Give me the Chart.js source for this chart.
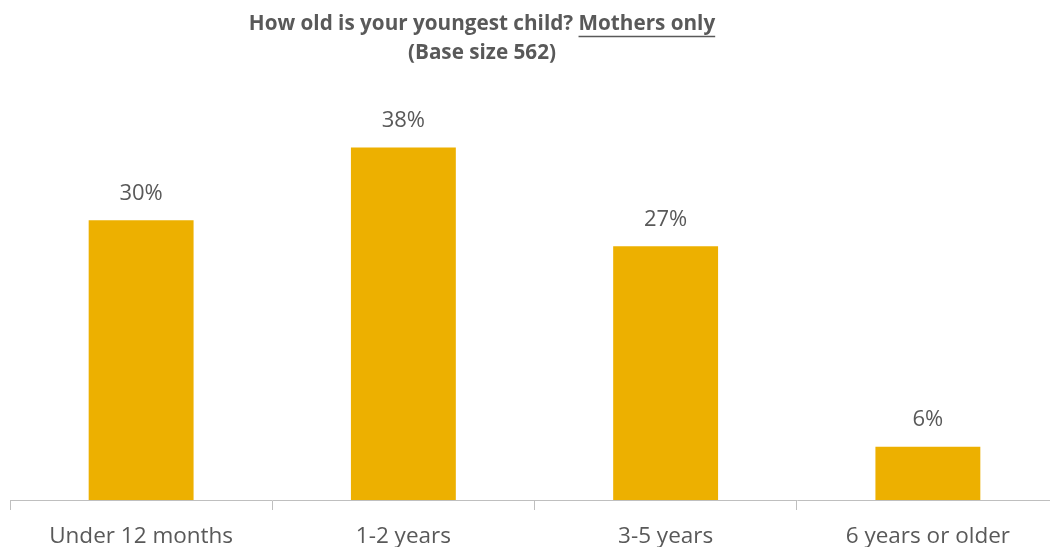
<!DOCTYPE html>
<html>
<head>
<meta charset="utf-8">
<script src="https://cdn.jsdelivr.net/npm/chart.js@4.4.0/dist/chart.umd.min.js"></script>
<style>
  html, body { margin: 0; padding: 0; background: #fff; overflow: hidden; }
  #wrap { position: relative; width: 1060px; height: 547px; }
</style>
</head>
<body>
<div id="wrap"><canvas id="c"></canvas></div>
<script>
const categories = ['Under 12 months', '1-2 years', '3-5 years', '6 years or older'];
const values = [30.0, 37.8, 27.2, 5.7];
const titleLine1 = 'How old is your youngest child? ';
const titleUnderlined = 'Mothers only';
const titleLine2 = '(Base size 562)';

const TEXT = '#595959';
const FONT = '"Open Sans", "Noto Sans", sans-serif';

const overlay = {
  id: 'overlay',
  afterDatasetsDraw(chart) {
    const ctx = chart.ctx;
    ctx.save();
    // data labels
    ctx.fillStyle = TEXT;
    ctx.font = '22px ' + FONT;
    ctx.textAlign = 'center';
    ctx.textBaseline = 'middle';
    const meta = chart.getDatasetMeta(0);
    meta.data.forEach((bar, i) => {
      ctx.fillText(Math.round(values[i]) + '%', bar.x, bar.y - 27);
    });
    // title
    const cx = 482;
    ctx.font = 'bold 20.7px ' + FONT;
    const w1 = ctx.measureText(titleLine1).width;
    const w2 = ctx.measureText(titleUnderlined).width;
    const start = cx - (w1 + w2) / 2;
    ctx.textAlign = 'left';
    ctx.fillText(titleLine1, start, 24);
    ctx.fillText(titleUnderlined, start + w1, 24);
    ctx.strokeStyle = TEXT;
    ctx.lineWidth = 1.3;
    ctx.beginPath();
    ctx.moveTo(start + w1, 36.5);
    ctx.lineTo(start + w1 + w2, 36.5);
    ctx.stroke();
    ctx.textAlign = 'center';
    ctx.fillText(titleLine2, cx, 53);
    ctx.restore();
  }
};

new Chart(document.getElementById('c'), {
  type: 'bar',
  data: {
    labels: categories,
    datasets: [{
      data: values,
      backgroundColor: '#EDB000',
      borderWidth: 0,
      categoryPercentage: 1.0,
      barPercentage: 0.40
    }]
  },
  options: {
    responsive: true,
    maintainAspectRatio: false,
    animation: false,
    layout: { padding: { top: 127, left: 10, right: 1, bottom: 0 } },
    plugins: { legend: { display: false }, tooltip: { enabled: false }, title: { display: false } },
    scales: {
      y: { display: false, min: 0, max: 40 },
      x: {
        afterFit(scale) { scale.height = 47; },
        grid: { offset: true, drawOnChartArea: false, tickLength: 10, color: '#BFBFBF', lineWidth: 1 },
        border: { color: '#BFBFBF', width: 1 },
        ticks: { color: TEXT, font: { family: FONT, size: 22.5 }, padding: 13, maxRotation: 0, autoSkip: false }
      }
    }
  },
  plugins: [overlay]
});
</script>
</body>
</html>
